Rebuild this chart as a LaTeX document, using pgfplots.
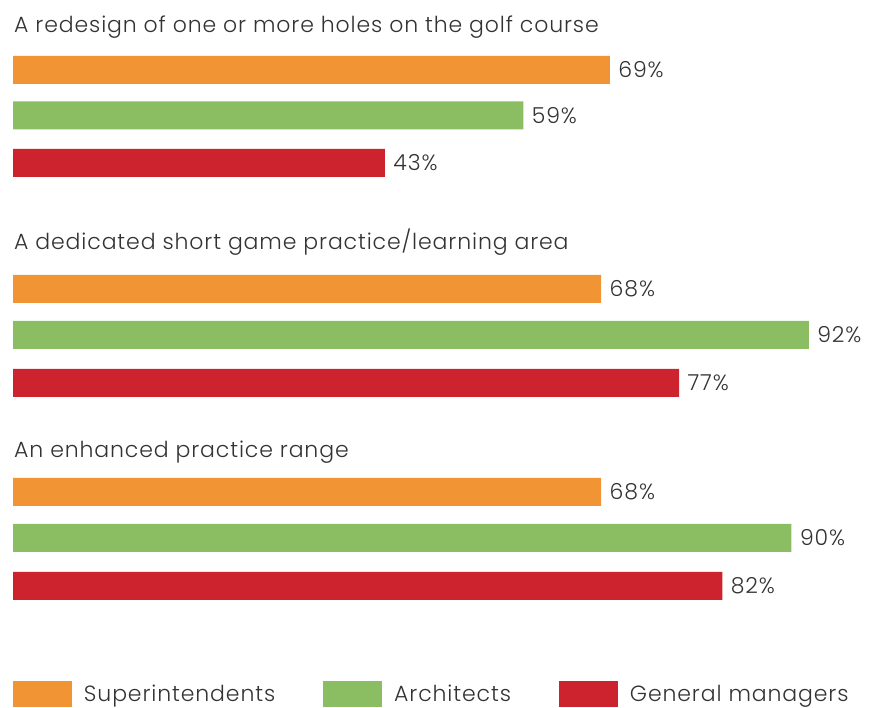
\documentclass[border=0pt]{standalone}
\usepackage{fontspec}
\setmainfont{Poppins}[UprightFont=* Light, LetterSpace=4]
\usepackage{pgfplots}
\pgfplotsset{compat=1.18}
\definecolor{cOr}{HTML}{F19433}
\definecolor{cGr}{HTML}{8BBD63}
\definecolor{cRd}{HTML}{CC232E}
\definecolor{cTx}{HTML}{333333}
\newcommand{\cf}{\fontsize{22}{26}\selectfont}
\begin{document}
\begin{tikzpicture}
\begin{axis}[
  scale only axis, width=881pt, height=708pt,
  xmin=-1.503, xmax=100.35, ymin=-708, ymax=0,
  hide axis, clip=false,
  xbar, bar shift=0pt, bar width=28pt,
  every axis plot/.append style={draw=none},
  nodes near coords={\pgfmathprintnumber[assume math mode=true]{\pgfplotspointmeta}\%},
  every node near coord/.append style={anchor=west, xshift=5pt, font=\cf, text=cTx},
  point meta=x,
  legend columns=3,
  legend image code/.code={\fill[#1] (0pt,-13pt) rectangle (59pt,13pt);},
  legend style={at={(axis cs:0,-681)}, anchor=north west, draw=none, fill=none,
    inner sep=0pt, outer sep=0pt,
    font=\cf, text=cTx,
    nodes={inner sep=0pt},
    /tikz/every odd column/.append style={column sep=12pt},
    /tikz/every even column/.append style={column sep=48pt}},
]
\addplot[fill=cOr] coordinates {(69,-70) (68,-289) (68,-492)};
\addlegendentry{Superintendents}
\addplot[fill=cGr] coordinates {(59,-115.5) (92,-335) (90,-538)};
\addlegendentry{Architects}
\addplot[fill=cRd] coordinates {(43,-163) (77,-383) (82,-586)};
\addlegendentry{General managers}
\node[anchor=base west, inner sep=0pt, xshift=1pt, text=cTx, font=\cf] at (axis cs:0,-33) {A redesign of one or more holes on the golf course};
\node[anchor=base west, inner sep=0pt, xshift=1pt, text=cTx, font=\cf] at (axis cs:0,-250) {A dedicated short game practice/learning area};
\node[anchor=base west, inner sep=0pt, xshift=1pt, text=cTx, font=\cf] at (axis cs:0,-458) {An enhanced practice range};
\end{axis}
\pgfresetboundingbox
\useasboundingbox (current axis.south west) rectangle (current axis.north east);
\end{tikzpicture}
\end{document}
